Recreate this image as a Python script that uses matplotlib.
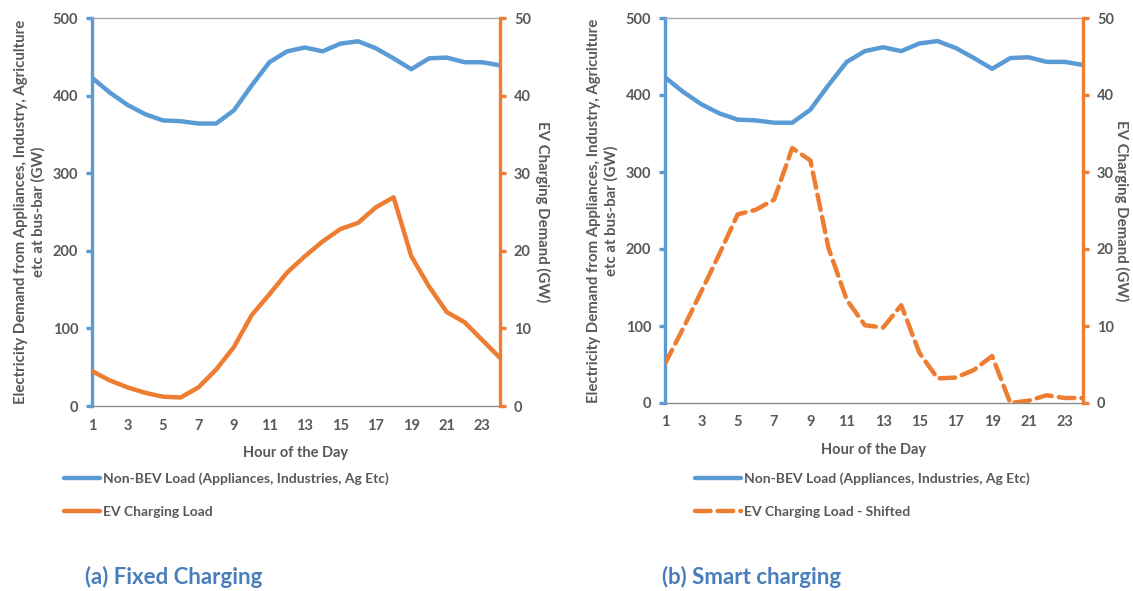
import numpy as np
import matplotlib
matplotlib.use('Agg')
import matplotlib.pyplot as plt

plt.rcParams['font.family'] = ['Lato', 'DejaVu Sans']

# data
hours = np.arange(1, 25)
non_bev = [423, 404, 388, 376, 368, 367, 364, 364, 381, 413, 443, 457,
           462, 457, 467, 470, 461, 448, 434, 448, 449, 443, 443, 439]
ev_fixed = [4.5, 3.3, 2.4, 1.7, 1.2, 1.1, 2.4, 4.7, 7.6, 11.7, 14.4, 17.2,
            19.3, 21.2, 22.8, 23.6, 25.6, 26.9, 19.3, 15.4, 12.1, 10.8, 8.5, 6.2]
ev_smart = [5.1, 9.7, 14.5, 19.4, 24.5, 25.1, 26.4, 33.1, 31.5, 20.1, 13.4, 10.1,
            9.8, 12.7, 6.5, 3.2, 3.3, 4.3, 6.1, 0.0, 0.3, 1.0, 0.65, 0.65]
xticks = list(range(1, 24, 2))
left_label = 'Electricity Demand from Appliances, Industry, Agriculture\netc at bus-bar (GW)'
right_label = 'EV Charging Demand (GW)'
lbl_blue = 'Non-BEV Load (Appliances, Industries, Ag Etc)'

BLUE = '#5b9bd5'
ORANGE = '#ed7d31'
GREY = '#595959'
TITLE = '#4a7ebb'

W, H = 1133, 591
fig = plt.figure(figsize=(W / 100, H / 100), dpi=100)


def panel(rect, ev, ev_label, dashed, legx, hlen, titlex, title, rpad):
    l, t, r, b = rect
    ax = fig.add_axes([l / W, 1 - b / H, (r - l) / W, (b - t) / H])
    ax2 = ax.twinx()
    h1, = ax.plot(hours, non_bev, color=BLUE, lw=3.2, solid_capstyle='round',
                  label=lbl_blue)
    if dashed:
        h2, = ax2.plot(hours, ev, color=ORANGE, lw=3.2, dashes=(3.5, 1.6),
                       dash_capstyle='round', label=ev_label)
    else:
        h2, = ax2.plot(hours, ev, color=ORANGE, lw=3.2, solid_capstyle='round',
                       label=ev_label)
    ax.set_xlim(1, 24)
    ax.set_ylim(0, 500)
    ax2.set_ylim(0, 50)
    ax.set_yticks(range(0, 501, 100))
    ax2.set_yticks(range(0, 51, 10))
    ax.set_xticks(xticks)
    for a in (ax, ax2):
        for s in a.spines.values():
            s.set_visible(False)
    ax.spines['left'].set_visible(True)
    ax.spines['left'].set_color(BLUE)
    ax.spines['left'].set_linewidth(2.4)
    ax2.spines['right'].set_visible(True)
    ax2.spines['right'].set_color(ORANGE)
    ax2.spines['right'].set_linewidth(2.4)
    ax.spines['bottom'].set_visible(True)
    ax.spines['bottom'].set_color('#8c8c8c')
    ax.spines['bottom'].set_linewidth(1.0)
    ax.spines['top'].set_visible(True)
    ax.spines['top'].set_color('#a6a6a6')
    ax.spines['top'].set_linewidth(1.0)
    ax.tick_params(axis='y', colors=BLUE, length=4, width=2.4, direction='out',
                   labelcolor=GREY, labelsize=10.5, pad=6)
    ax.tick_params(axis='x', length=0, labelcolor=GREY, labelsize=10.5, pad=9)
    ax2.tick_params(axis='y', colors=ORANGE, length=4, width=2.4, direction='out',
                    labelcolor=GREY, labelsize=10.5, pad=6)
    for lab in ax.get_xticklabels() + ax.get_yticklabels() + ax2.get_yticklabels():
        lab.set_fontweight('bold')
    ax.set_ylabel(left_label, color=GREY, fontsize=10.8, fontweight='bold',
                  labelpad=5, linespacing=1.25)
    ax2.set_ylabel(right_label, color=GREY, fontsize=10.8, fontweight='bold',
                   rotation=270, labelpad=rpad)
    ax.set_xlabel('Hour of the Day', color=GREY, fontsize=10.5, fontweight='bold',
                  labelpad=10)
    fig.legend(handles=[h1, h2], loc='upper left',
               bbox_to_anchor=(legx / W, 1 - 472 / H), frameon=False,
               handlelength=hlen, handletextpad=0.2, labelspacing=1.52,
               borderaxespad=0, borderpad=0, prop={'size': 10, 'weight': 'bold'},
               labelcolor=GREY)
    fig.text(titlex / W, 1 - 577 / H, title, color=TITLE, fontsize=16,
             fontweight='bold', va='center', ha='left')
    return ax


panel((92, 18, 500, 406), ev_fixed, 'EV Charging Load', False, 64, 2.6, 85,
      '(a) Fixed Charging', 14)
panel((665, 18, 1083, 403), ev_smart, 'EV Charging Load - Shifted', True, 695, 3.3,
      662, '(b) Smart charging', 11)

fig.savefig('out.png', dpi=100)
